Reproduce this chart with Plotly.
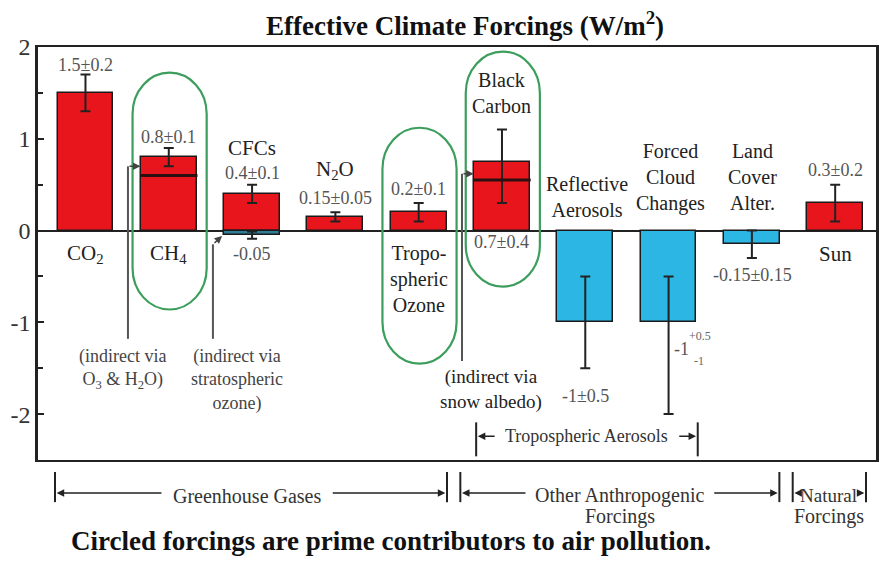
import plotly.graph_objects as go

# ---------------- data ----------------
categories = ["CO2", "CH4", "CFCs", "N2O", "Tropospheric Ozone", "Black Carbon",
              "Reflective Aerosols", "Forced Cloud Changes", "Land Cover Alter.", "Sun"]
values = [1.5, 0.8, 0.4, 0.15, 0.2, 0.75, -1.0, -1.0, -0.15, 0.3]
err_plus = [0.2, 0.1, 0.1, 0.05, 0.1, 0.35, 0.5, 0.5, 0.15, 0.2]
err_minus = [0.2, 0.1, 0.1, 0.05, 0.1, 0.45, 0.5, 1.0, 0.15, 0.2]
value_labels = ["1.5±0.2", "0.8±0.1", "0.4±0.1", "0.15±0.05", "0.2±0.1", "0.7±0.4",
                "-1±0.5", "", "-0.15±0.15", "0.3±0.2"]
# CFC indirect (stratospheric ozone) forcing
cfc_indirect = -0.05
cfc_indirect_err = 0.04
# direct portions marked inside bars
direct_idx = [1, 5]
direct_vals = [0.6, 0.55]
circled_idx = [1, 4, 5]

RED = "#e8161c"
BLUE = "#2bb6e4"
TEAL = "#2f7d96"
FONT = "Liberation Serif"
GREEN = "#3c9e5c"

x = list(range(len(categories)))
bar_w = 0.67
colors = [RED if v > 0 else BLUE for v in values]

fig = go.Figure()
fig.add_trace(go.Bar(
    x=x, y=values, width=bar_w,
    marker=dict(color=colors, line=dict(color="#1a1a1a", width=1.5)),
    error_y=dict(type="data", symmetric=False, array=err_plus, arrayminus=err_minus,
                 color="#222", thickness=2, width=5),
    showlegend=False))
fig.add_trace(go.Bar(
    x=[2], y=[cfc_indirect], width=bar_w,
    marker=dict(color=TEAL, line=dict(color="#1a1a1a", width=1.5)),
    error_y=dict(type="data", array=[cfc_indirect_err], color="#222", thickness=2, width=5),
    showlegend=False))
fig.add_trace(go.Scatter(
    x=direct_idx, y=direct_vals, mode="markers",
    marker=dict(symbol="line-ew", size=41, line=dict(color="#2a1010", width=3)),
    showlegend=False, hoverinfo="skip"))

# ---------------- stadium shapes around circled forcings ----------------
def stadium(xc, hw, y0, y1, ry):
    k = 0.5523
    return (f"M {xc-hw},{y1-ry} C {xc-hw},{y1-ry+k*ry} {xc-k*hw},{y1} {xc},{y1} "
            f"C {xc+k*hw},{y1} {xc+hw},{y1-ry+k*ry} {xc+hw},{y1-ry} "
            f"L {xc+hw},{y0+ry} C {xc+hw},{y0+ry-k*ry} {xc+k*hw},{y0} {xc},{y0} "
            f"C {xc-k*hw},{y0} {xc-hw},{y0+ry-k*ry} {xc-hw},{y0+ry} Z")

stad_ext = {1: (-0.86, 1.72), 4: (-1.45, 1.12), 5: (-0.61, 1.95)}
shapes = []
for i in circled_idx:
    y0, y1 = stad_ext[i]
    shapes.append(dict(type="path", xref="x", yref="y",
                       path=stadium(i + 0.01, 0.445, y0, y1, 0.45),
                       line=dict(color=GREEN, width=2.2)))

# indirect-effect pointer lines
pointer_lines = [(0.51, -1.18, 0.70), (1.53, -1.18, -0.15), (4.52, -1.42, 0.62)]
for px, ya, yb in pointer_lines:
    shapes.append(dict(type="line", xref="x", yref="y", x0=px, x1=px, y0=ya, y1=yb,
                       line=dict(color="#555", width=2)))

annotations = []
def arrow(xh, yh, xt, yt, yref="y", color="#333", w=1.5):
    if yref == "y":
        annotations.append(dict(x=xh, y=yh, ax=xt, ay=yt, xref="x", yref="y",
                                axref="x", ayref="y", text="", showarrow=True,
                                arrowhead=2, arrowsize=1, arrowwidth=w, arrowcolor=color))
    else:
        annotations.append(dict(x=xh, y=yh, ax=xt, ay=0, xref="x", yref="paper",
                                axref="x", ayref="pixel", text="", showarrow=True,
                                arrowhead=2, arrowsize=1, arrowwidth=w, arrowcolor=color))

arrow(0.66, 0.70, 0.51, 0.70, color="#444")
arrow(1.64, -0.06, 1.53, -0.15, color="#444")
arrow(4.66, 0.62, 4.52, 0.62, color="#444")

def text(xv, yv, s, size=18, color="#222", xref="x", yref="y", bold=False):
    if bold:
        s = f"<b>{s}</b>"
    annotations.append(dict(x=xv, y=yv, xref=xref, yref=yref, text=s, showarrow=False,
                            font=dict(family=FONT, size=size, color=color),
                            xanchor="center", yanchor="middle"))

# value labels
val_y = [1.80, 1.02, 0.63, 0.36, 0.45, -0.13, -1.80, None, -0.48, 0.66]
val_x = [0, 1, 2, 3, 4, 5, 6, 7, 8.01, 9]
for i, s in enumerate(value_labels):
    if s:
        text(val_x[i], val_y[i], s, size=18, color="#555")
text(2, -0.26, "-0.05", size=18, color="#555")
text(7.16, -1.29, "-1", size=18, color="#555")
text(7.38, -1.15, "+0.5", size=12, color="#666")
text(7.36, -1.42, "-1", size=12, color="#666")

# category labels
text(0, -0.26, "CO<sub>2</sub>", size=21)
text(1, -0.26, "CH<sub>4</sub>", size=21)
text(2, 0.90, "CFCs", size=21)
text(3, 0.66, "N<sub>2</sub>O", size=21)
text(4, -0.53, "Tropo-<br>spheric<br>Ozone", size=20)
text(5.0, 1.50, "Black<br>Carbon", size=20)
text(6.02, 0.37, "Reflective<br>Aerosols", size=20)
text(7.02, 0.58, "Forced<br>Cloud<br>Changes", size=20)
text(8.01, 0.58, "Land<br>Cover<br>Alter.", size=20)
text(9, -0.26, "Sun", size=21)

# indirect notes
text(0.44, -1.51, "(indirect via<br>O<sub>3</sub> &amp; H<sub>2</sub>O)", size=18, color="#444")
text(1.82, -1.63, "(indirect via<br>stratospheric<br>ozone)", size=18, color="#444")
text(4.87, -1.73, "(indirect via<br>snow albedo)", size=19, color="#222")

# tropospheric aerosols bracket (inside plot)
shapes.append(dict(type="line", xref="x", yref="y", x0=4.69, x1=4.69, y0=-2.09, y1=-2.46,
                   line=dict(color="#222", width=2)))
shapes.append(dict(type="line", xref="x", yref="y", x0=7.35, x1=7.35, y0=-2.09, y1=-2.46,
                   line=dict(color="#222", width=2)))
text(6.02, -2.24, "Tropospheric Aerosols", size=18, color="#333")
arrow(4.71, -2.24, 4.93, -2.24, color="#222")
arrow(7.33, -2.24, 7.11, -2.24, color="#222")

# bottom group brackets (paper y)
BR_Y0, BR_Y1, BR_ARR, BR_TXT, BR_TXT2 = -0.029, -0.102, -0.080, -0.087, -0.138
groups = [
    ("Greenhouse Gases", None, -0.366, 4.34, 1.94, 0.93, 2.95, 20),
    ("Other Anthropogenic", "Forcings", 4.50, 8.33, 6.42, 5.30, 7.53, 20),
    ("Natural", "Forcings", 8.49, 9.37, 8.92, 8.575, 9.285, 19),
]
for name, sub, x0g, x1g, xc, tl, tr, fs in groups:
    for xe in (x0g, x1g):
        shapes.append(dict(type="line", xref="x", yref="paper", x0=xe, x1=xe,
                           y0=BR_Y0, y1=BR_Y1, line=dict(color="#222", width=2)))
    text(xc, BR_TXT, name, size=fs, color="#333", yref="paper")
    if sub:
        text(xc, BR_TXT2, sub, size=20, color="#333", yref="paper")
    arrow(x0g + 0.02, BR_ARR, tl, yref="paper", color="#222", yt=0)
    arrow(x1g - 0.02, BR_ARR, tr, yref="paper", color="#222", yt=0)

# title and footnote
text(0.51, 1.056, "Effective Climate Forcings (W/m<sup>2</sup>)", size=27, color="#111",
     xref="paper", yref="paper", bold=True)
text(0.421, -0.196, "Circled forcings are prime contributors to air pollution.", size=27,
     color="#111", xref="paper", yref="paper", bold=True)

fig.update_layout(
    width=879, height=561,
    margin=dict(l=38, r=3, t=47, b=101, autoexpand=False),
    paper_bgcolor="white", plot_bgcolor="white",
    barmode="overlay", bargap=0,
    shapes=shapes, annotations=annotations,
    font=dict(family=FONT),
    xaxis=dict(range=[-0.57, 9.49], showticklabels=False, ticks="", showgrid=False,
               automargin=False,
               zeroline=False, showline=True, mirror=True, linecolor="#222", linewidth=2),
    yaxis=dict(range=[-2.5, 2.0], tickvals=[-2, -1, 0, 1, 2], automargin=False,
               ticktext=["-2", "-1", "0", "1", "2"], ticks="inside", ticklen=6,
               tickwidth=2, tickcolor="#222", showgrid=False,
               zeroline=True, zerolinecolor="#222", zerolinewidth=2,
               showline=True, mirror=True, linecolor="#222", linewidth=2.5,
               tickfont=dict(family=FONT, size=24, color="#333"),
               minor=dict(tickvals=[-1.5, -0.5, 0.5, 1.5], ticks="inside", ticklen=5,
                          tickwidth=2, tickcolor="#222")),
)

fig.write_html("out.html", config={"displayModeBar": False},
               post_script="document.body.style.margin='0px';")
